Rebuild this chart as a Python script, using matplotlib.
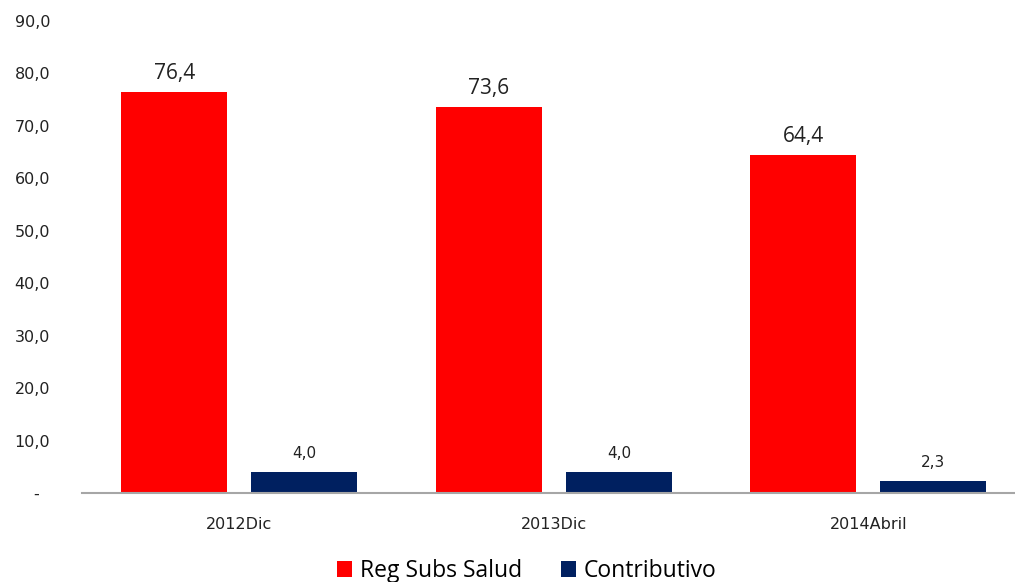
import numpy as np
import matplotlib
matplotlib.use("Agg")
import matplotlib.pyplot as plt

categories = ["2012Dic", "2013Dic", "2014Abril"]
reg_subs = [76.4, 73.6, 64.4]
contributivo = [4.0, 4.0, 2.3]
series_names = ["Reg Subs Salud", "Contributivo"]
yticks = [0, 10, 20, 30, 40, 50, 60, 70, 80, 90]

plt.rcParams['font.family'] = ['DejaVu Sans']

W, H = 1015, 582
fig = plt.figure(figsize=(W / 100, H / 100), dpi=100)
ax = fig.add_axes([82 / W, (H - 493) / H, (W - 82) / W, (493 - 21) / H])

x = np.arange(len(categories))
bw = 0.337
off = 0.207
b1 = ax.bar(x - off, reg_subs, bw, color='#FF0000', label=series_names[0])
b2 = ax.bar(x + off, contributivo, bw, color='#002060', label=series_names[1])

def fmt(v):
    return f"{v:.1f}".replace('.', ',')

# etiquetas de datos
for rect, v in zip(b1, reg_subs):
    ax.annotate(fmt(v), (rect.get_x() + rect.get_width() / 2, v),
                xytext=(0, 6), textcoords='offset points',
                ha='center', va='bottom', fontsize=15, color='#222222',
                family='Open Sans')
for rect, v in zip(b2, contributivo):
    ax.annotate(fmt(v), (rect.get_x() + rect.get_width() / 2, v),
                xytext=(0, 8), textcoords='offset points',
                ha='center', va='bottom', fontsize=11, color='#222222')

ax.set_xlim(-0.5, (W - 82) / 314.5 - 0.5)
ax.set_ylim(0, 90)
ax.set_yticks(yticks)
ax.set_yticklabels(['-  ' if t == 0 else fmt(t) for t in yticks], fontsize=11.5, color='#222222')
ax.set_xticks(x)
ax.set_xticklabels(categories, fontsize=11.5, color='#222222')
ax.tick_params(axis='y', length=0, pad=23)
ax.tick_params(axis='x', length=0, pad=17)

for s in ['top', 'right', 'left']:
    ax.spines[s].set_visible(False)
ax.spines['bottom'].set_color('#A6A6A6')
ax.spines['bottom'].set_linewidth(1.5)

leg = fig.legend(loc='center', bbox_to_anchor=(527 / W, 1 - 571 / H), ncol=2,
                 frameon=False, prop={'family': 'Open Sans', 'size': 16.5},
                 handlelength=0.65, handleheight=0.65,
                 handletextpad=0.35, columnspacing=1.7)

fig.savefig('out.png', dpi=100)
